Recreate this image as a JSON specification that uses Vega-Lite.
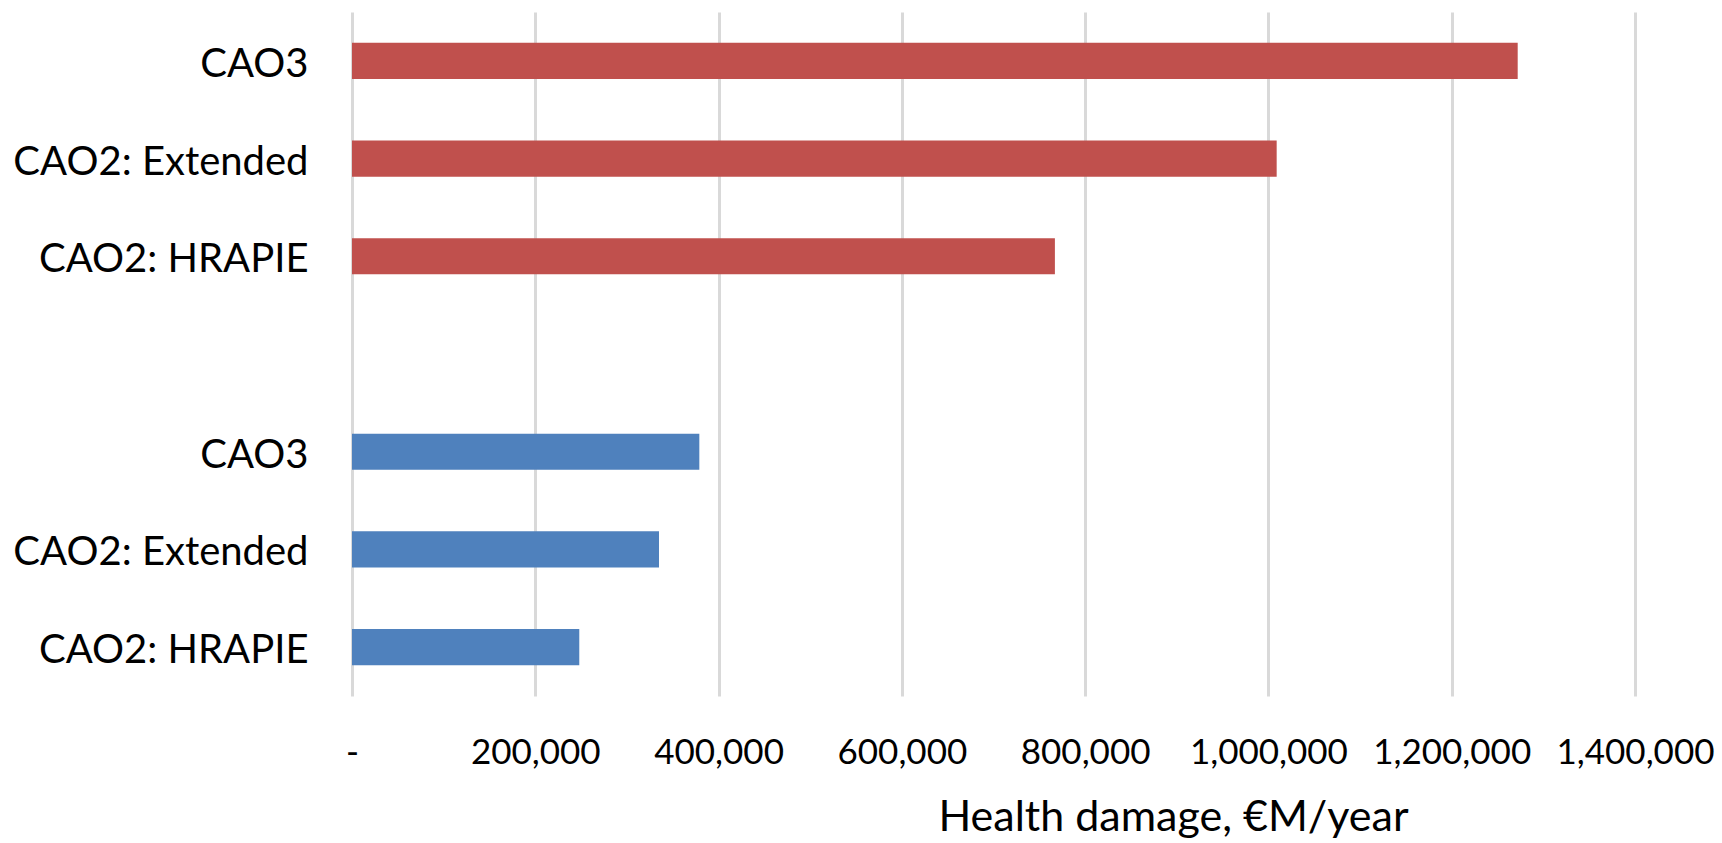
{
  "$schema": "https://vega.github.io/schema/vega-lite/v6.json",
  "width": 1283,
  "height": 684,
  "autosize": {"type": "none"},
  "padding": {"left": 352, "top": 12, "right": 87, "bottom": 147},
  "background": "white",
  "config": {"view": {"stroke": null}},
  "data": {
    "values": [
      {"group": "A", "slot": "A|CAO3", "scenario": "CAO3", "damage": 1272000},
      {"group": "A", "slot": "A|CAO2: Extended", "scenario": "CAO2: Extended", "damage": 1009000},
      {"group": "A", "slot": "A|CAO2: HRAPIE", "scenario": "CAO2: HRAPIE", "damage": 767000},
      {"group": "B", "slot": "B|CAO3", "scenario": "CAO3", "damage": 379000},
      {"group": "B", "slot": "B|CAO2: Extended", "scenario": "CAO2: Extended", "damage": 335000},
      {"group": "B", "slot": "B|CAO2: HRAPIE", "scenario": "CAO2: HRAPIE", "damage": 248000}
    ]
  },
  "mark": {"type": "bar"},
  "encoding": {
    "y": {
      "field": "slot",
      "type": "nominal",
      "sort": null,
      "scale": {
        "domain": ["A|CAO3", "A|CAO2: Extended", "A|CAO2: HRAPIE", "gap|", "B|CAO3", "B|CAO2: Extended", "B|CAO2: HRAPIE"],
        "paddingInner": 0.63,
        "paddingOuter": 0.315
      },
      "axis": {
        "title": null,
        "domain": false,
        "ticks": false,
        "grid": false,
        "labelExpr": "split(datum.value, '|')[1]",
        "labelFont": "Lato",
        "labelFontSize": 40,
        "labelColor": "#000000",
        "labelPadding": 44,
        "labelLimit": 500,
        "labelBaseline": "alphabetic",
        "labelOffset": 16
      }
    },
    "x": {
      "field": "damage",
      "type": "quantitative",
      "scale": {"domain": [0, 1400000], "nice": false},
      "axis": {
        "values": [0, 200000, 400000, 600000, 800000, 1000000, 1200000, 1400000],
        "grid": true,
        "gridColor": "#d9d9d9",
        "gridWidth": 3,
        "domain": false,
        "ticks": false,
        "labelExpr": "datum.value == 0 ? '-' : format(datum.value, ',')",
        "labelFont": "Lato",
        "labelFontSize": 35,
        "labelColor": "#000000",
        "labelPadding": 67,
        "labelBaseline": "alphabetic",
        "labelFlush": false,
        "labelOverlap": false,
        "title": "Health damage, €M/year",
        "titleFont": "Lato",
        "titleFontSize": 43,
        "titleFontWeight": "normal",
        "titleColor": "#000000",
        "titleX": 821,
        "titleY": 134,
        "titleAlign": "center",
        "titleBaseline": "alphabetic"
      }
    },
    "color": {
      "field": "group",
      "type": "nominal",
      "scale": {"domain": ["A", "B"], "range": ["#C0504D", "#4F81BD"]},
      "legend": null
    }
  }
}
